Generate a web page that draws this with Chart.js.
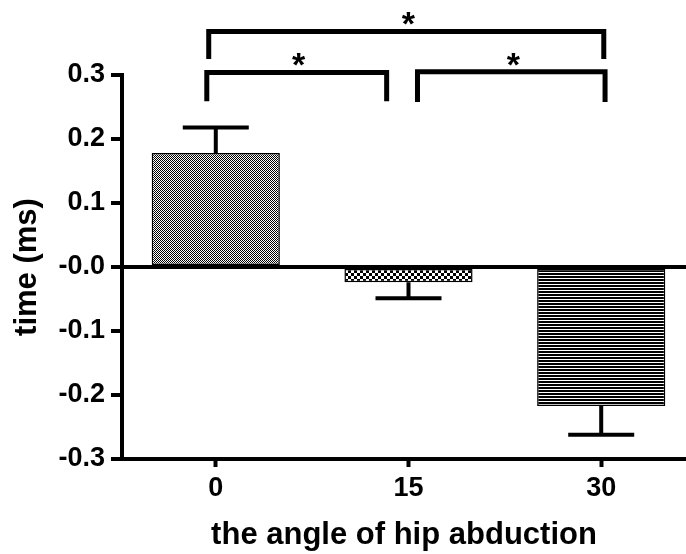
<!DOCTYPE html>
<html>
<head>
<meta charset="utf-8">
<script src="https://cdn.jsdelivr.net/npm/chart.js@4/dist/chart.umd.min.js"></script>
<style>
  html, body { margin: 0; padding: 0; background: #fff; overflow: hidden; }
  canvas { display: block; }
</style>
</head>
<body>
<canvas id="hipChart" width="686" height="554"></canvas>
<script>
// values
const angles = [0, 15, 30];
const meanTime = [0.178, -0.024, -0.217];
const errTime = [0.040, 0.025, 0.045];
const yTicks = [-0.3, -0.2, -0.1, 0, 0.1, 0.2, 0.3];

// significance brackets (x in degrees, y in ms)
const bracketFrom = [-0.7, 15.7, -0.55];
const bracketTo = [13.3, 30.3, 30.2];
const bracketLevel = [0.304, 0.305, 0.368];
const bracketFoot = [0.259, 0.258, 0.325];
const bracketLabel = ['*', '*', '*'];

const FONT = "'Liberation Sans', Arial, Helvetica, sans-serif";

// small tiles used as bar fills
function makePattern(size, paint) {
    const c = document.createElement('canvas');
    c.width = size; c.height = size;
    const g = c.getContext('2d');
    g.fillStyle = '#fff';
    g.fillRect(0, 0, size, size);
    g.fillStyle = '#000';
    paint(g);
    return document.getElementById('hipChart').getContext('2d').createPattern(c, 'repeat');
}

const fineDots = makePattern(2, g => { g.fillRect(0, 0, 1, 1); g.fillRect(1, 1, 1, 1); });
const coarseChecks = makePattern(6, g => { g.fillRect(0, 0, 3, 3); g.fillRect(3, 3, 3, 3); });
const stripes = makePattern(3, g => { g.fillRect(0, 0, 3, 2); });

// error bars pointing away from zero
const errorBars = {
    id: 'errorBars',
    afterDatasetsDraw(chart) {
        const ctx = chart.ctx;
        const y = chart.scales.y;
        const meta = chart.getDatasetMeta(0);
        ctx.save();
        ctx.strokeStyle = '#000';
        ctx.lineWidth = 4;
        meta.data.forEach((bar, i) => {
            const dir = meanTime[i] >= 0 ? 1 : -1;
            const y0 = y.getPixelForValue(meanTime[i]);
            const y1 = y.getPixelForValue(meanTime[i] + dir * errTime[i]);
            ctx.beginPath();
            ctx.moveTo(bar.x, y0);
            ctx.lineTo(bar.x, y1);
            ctx.moveTo(bar.x - 33, y1);
            ctx.lineTo(bar.x + 33, y1);
            ctx.stroke();
        });
        ctx.restore();
    }
};

const brackets = {
    id: 'brackets',
    afterDraw(chart) {
        const ctx = chart.ctx;
        const xs = chart.scales.x;
        const ys = chart.scales.y;
        ctx.save();
        ctx.strokeStyle = '#000';
        ctx.fillStyle = '#000';
        ctx.lineWidth = 5;
        ctx.lineCap = 'butt';
        ctx.font = 'bold 34px ' + FONT;
        ctx.textAlign = 'center';
        ctx.textBaseline = 'alphabetic';
        bracketFrom.forEach((from, i) => {
            const x1 = xs.getPixelForValue(from);
            const x2 = xs.getPixelForValue(bracketTo[i]);
            const yl = ys.getPixelForValue(bracketLevel[i]);
            const yf = ys.getPixelForValue(bracketFoot[i]);
            ctx.beginPath();
            ctx.moveTo(x1, yf);
            ctx.lineTo(x1, yl);
            ctx.lineTo(x2, yl);
            ctx.lineTo(x2, yf);
            ctx.stroke();
            ctx.fillText(bracketLabel[i], (x1 + x2) / 2 + 2, yl + 4);
        });
        ctx.restore();
    }
};

new Chart(document.getElementById('hipChart'), {
    type: 'bar',
    data: {
        datasets: [{
            data: angles.map((a, i) => ({ x: a, y: meanTime[i] })),
            backgroundColor: [fineDots, coarseChecks, stripes],
            borderColor: '#000',
            borderWidth: 1.5,
            borderSkipped: false,
            barPercentage: 0.665,
            categoryPercentage: 1
        }]
    },
    options: {
        responsive: false,
        animation: false,
        layout: { padding: { top: 75, left: 0, right: 0, bottom: 0 } },
        plugins: {
            legend: { display: false },
            tooltip: { enabled: false }
        },
        scales: {
            x: {
                type: 'linear',
                min: -7.3,
                max: 36.6,
                offset: false,
                afterBuildTicks: s => { s.ticks = angles.map(v => ({ value: v })); },
                afterFit: s => { s.height = 95; },
                ticks: {
                    color: '#000',
                    padding: 5,
                    font: { family: FONT, size: 27, weight: 'bold' },
                    callback: v => String(v)
                },
                grid: {
                    offset: false,
                    drawOnChartArea: false,
                    drawTicks: true,
                    tickLength: 8,
                    tickWidth: 4,
                    tickColor: '#000'
                },
                border: { display: true, color: '#000', width: 4 },
                title: {
                    display: true,
                    text: 'the angle of hip abduction',
                    color: '#000',
                    padding: { top: 3, bottom: 0 },
                    font: { family: FONT, size: 31, weight: 'bold' }
                }
            },
            y: {
                min: -0.3,
                max: 0.3,
                afterBuildTicks: s => { s.ticks = yTicks.map(v => ({ value: v })); },
                afterFit: s => { s.width = 122; },
                ticks: {
                    color: '#000',
                    padding: 6,
                    font: { family: FONT, size: 27, weight: 'bold' },
                    callback: v => Math.abs(v) < 1e-9 ? '-0.0' : v.toFixed(1)
                },
                grid: {
                    drawOnChartArea: true,
                    drawTicks: true,
                    tickLength: 11,
                    tickWidth: 4,
                    tickColor: '#000',
                    color: c => (c.tick && Math.abs(c.tick.value) < 1e-9) ? '#000' : 'rgba(0,0,0,0)',
                    lineWidth: c => (c.tick && Math.abs(c.tick.value) < 1e-9) ? 4 : 0
                },
                border: { display: true, color: '#000', width: 4 },
                title: {
                    display: true,
                    text: 'time (ms)',
                    color: '#000',
                    padding: { top: 9, bottom: 0 },
                    font: { family: FONT, size: 31, weight: 'bold' }
                }
            }
        }
    },
    plugins: [errorBars, brackets]
});
</script>
</body>
</html>
